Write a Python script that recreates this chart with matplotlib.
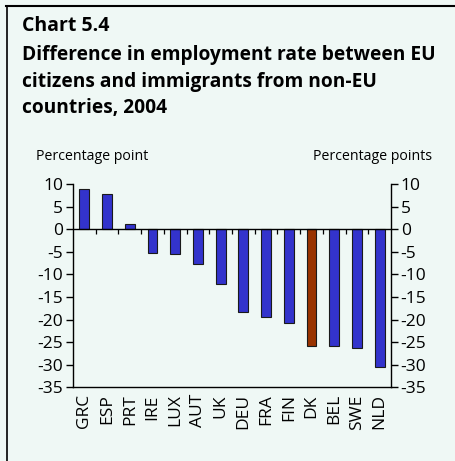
import matplotlib
matplotlib.use("Agg")
import matplotlib.pyplot as plt
from matplotlib.lines import Line2D
import numpy as np

countries = ["GRC", "ESP", "PRT", "IRE", "LUX", "AUT", "UK",
             "DEU", "FRA", "FIN", "DK", "BEL", "SWE", "NLD"]
diff_pp = [8.9, 7.8, 1.2, -5.2, -5.5, -7.7, -12.1,
           -18.3, -19.5, -20.8, -25.8, -25.8, -26.2, -30.4]
highlight = "DK"
y_ticks = [10, 5, 0, -5, -10, -15, -20, -25, -30, -35]

title_lines = ["Difference in employment rate between EU",
               "citizens and immigrants from non-EU",
               "countries, 2004"]

BG = "#eff8f5"
BLUE = "#3333cc"
RUST = "#993300"

plt.rcParams["font.family"] = ["Open Sans", "DejaVu Sans"]
plt.rcParams["axes.unicode_minus"] = False

W, H = 455, 461
fig = plt.figure(figsize=(W / 100, H / 100), dpi=100, facecolor=BG)

# frame lines along the top and left edges
fig.add_artist(Line2D([6 / W, 1.0], [1 - 6 / H, 1 - 6 / H],
                      transform=fig.transFigure, color="black", lw=1.5))
fig.add_artist(Line2D([6.5 / W, 6.5 / W], [0, 1 - 6 / H],
                      transform=fig.transFigure, color="black", lw=1.2))

fig.text(22 / W, 1 - 31 / H, "Chart 5.4", fontsize=14, fontweight="bold",
         ha="left", va="baseline")
for i, line in enumerate(title_lines):
    fig.text(22 / W, 1 - (60 + 26.5 * i) / H, line, fontsize=13.8,
             fontweight="bold", ha="left", va="baseline")

ax = fig.add_axes([73 / W, 1 - 387.3 / H, 318 / W, 203.3 / H])
ax.set_facecolor(BG)

x = np.arange(len(countries))
colors = [RUST if c == highlight else BLUE for c in countries]
ax.bar(x, diff_pp, width=0.44, color=colors, edgecolor="#1a1a1a",
       linewidth=0.8, zorder=3)

ax.set_xlim(-0.5, len(countries) - 0.5)
ax.set_ylim(-35, 10)
ax.axhline(0, color="black", lw=1.0, zorder=4)

# category separators hanging below the zero line
ax.vlines(x[:-1] + 0.5, -1.1, 0, color="black", lw=0.9, zorder=4)

ax.spines["top"].set_visible(False)
for s in ("left", "right", "bottom"):
    ax.spines[s].set_linewidth(1.0)

ax.set_yticks(y_ticks)
ax.tick_params(axis="y", which="both", direction="out", length=5, width=1,
               labelsize=12.5, left=True, right=True,
               labelleft=True, labelright=True, pad=2)
ax.set_xticks(x)
ax.set_xticklabels(countries, rotation=90, fontsize=12.5)
ax.tick_params(axis="x", length=0, pad=5)

fig.text(36 / W, 1 - 157 / H, "Percentage point", fontsize=10.2,
         ha="left", va="center")
fig.text(432 / W, 1 - 157 / H, "Percentage points", fontsize=10.2,
         ha="right", va="center")

fig.savefig("out.png", dpi=100, facecolor=BG)
